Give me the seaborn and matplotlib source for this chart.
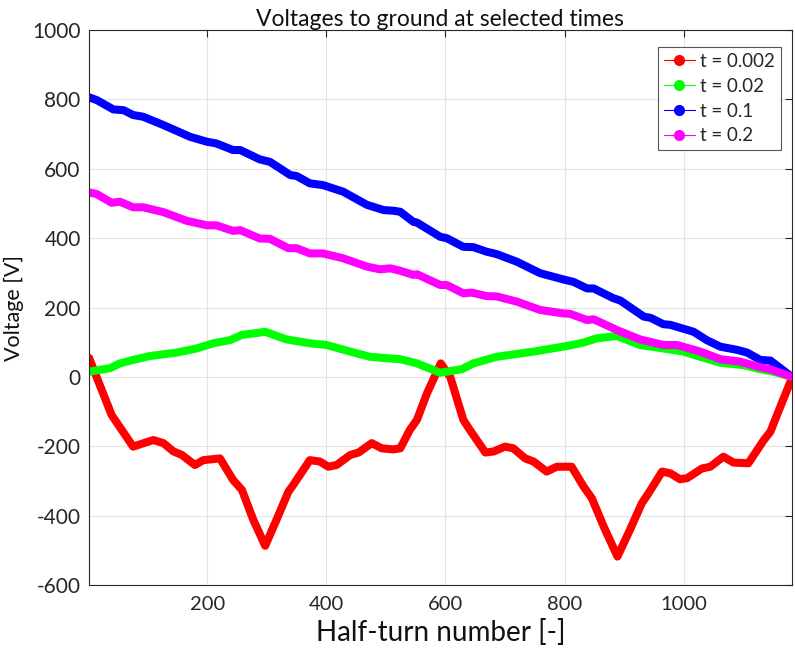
import matplotlib
matplotlib.use("Agg")
import matplotlib.pyplot as plt
import seaborn as sns
import numpy as np
from matplotlib.lines import Line2D

# ---------------- data ----------------
x_red = [1, 39, 75, 109, 126, 143, 157, 179, 193, 221, 243, 258, 277, 297, 316, 336, 344,
         372, 389, 403, 417, 440, 454, 476, 493, 512, 524, 540, 552, 569, 592, 608, 630, 641,
         667, 681, 700, 714, 734, 748, 770, 787, 812, 832, 846, 866, 889, 910, 930, 941, 964,
         978, 994, 1006, 1031, 1045, 1067, 1084, 1109, 1135, 1146, 1165, 1182]
v_red = [55, -110, -201, -182, -191, -215, -225, -254, -240, -235, -297, -326, -412, -487,
         -412, -331, -312, -240, -244, -259, -254, -225, -218, -191, -206, -209, -206, -153,
         -124, -47, 39, 0, -124, -153, -218, -215, -201, -206, -235, -244, -273, -259, -259,
         -316, -350, -432, -518, -441, -364, -336, -273, -278, -295, -292, -264, -259, -230,
         -247, -249, -182, -158, -76, -4]

x_green = [1, 36, 53, 75, 103, 148, 182, 210, 238, 258, 297, 333, 372, 400, 440, 473, 501,
           524, 552, 591, 627, 647, 686, 748, 804, 832, 854, 888, 927, 966, 1000, 1028, 1062,
           1101, 1129, 1151, 1182]
v_green = [15, 25, 39, 49, 60, 70, 82, 97, 106, 121, 130, 108, 97, 92, 73, 58, 54, 51, 39,
           12, 22, 39, 58, 73, 89, 99, 111, 118, 92, 82, 73, 58, 41, 34, 22, 15, 0]

x_blue = [1, 14, 42, 59, 75, 92, 126, 171, 199, 215, 243, 255, 288, 305, 339, 350, 372, 394,
          428, 468, 496, 513, 524, 546, 552, 591, 602, 630, 647, 669, 686, 720, 759, 798, 815,
          838, 849, 882, 894, 933, 945, 966, 978, 1017, 1039, 1062, 1090, 1107, 1129, 1146,
          1163, 1182]
v_blue = [806, 798, 771, 769, 755, 750, 726, 692, 678, 673, 654, 654, 627, 620, 582, 579,
          558, 553, 534, 496, 481, 479, 476, 447, 445, 404, 400, 375, 374, 361, 354, 332,
          299, 281, 274, 255, 255, 227, 220, 174, 170, 152, 150, 130, 106, 87, 78, 70, 49,
          47, 25, 0]

x_mag = [1, 14, 39, 53, 75, 92, 126, 165, 199, 215, 243, 255, 288, 305, 336, 350, 372, 394,
         428, 468, 490, 507, 524, 546, 552, 591, 602, 630, 644, 669, 686, 720, 759, 798, 809,
         838, 849, 882, 888, 927, 966, 989, 1028, 1062, 1095, 1129, 1146, 1182]
v_mag = [532, 527, 502, 505, 489, 489, 475, 450, 437, 437, 421, 423, 399, 398, 371, 371,
         356, 356, 342, 318, 310, 313, 306, 294, 296, 265, 265, 241, 243, 233, 232, 217,
         193, 183, 182, 164, 166, 140, 135, 108, 92, 92, 73, 51, 44, 28, 22, 0]

labels = ["t = 0.002", "t = 0.02", "t = 0.1", "t = 0.2"]
colors = ["#ff0000", "#00ff00", "#0000ff", "#ff00ff"]
x_ticks = [200, 400, 600, 800, 1000]
y_ticks = [-600, -400, -200, 0, 200, 400, 600, 800, 1000]

# ---------------- plot ----------------
sns.set_theme(style="white")
plt.rcParams["font.family"] = ["Lato", "DejaVu Sans"]
plt.rcParams["axes.unicode_minus"] = False

fig = plt.figure(figsize=(7.95, 6.6), dpi=100)
ax = fig.add_axes([0.112, 0.1136, 0.884, 0.8409])

series = [(x_red, v_red), (x_green, v_green), (x_blue, v_blue), (x_mag, v_mag)]
for (xs, vs), lab, col in zip(series, labels, colors):
    sns.lineplot(x=xs, y=vs, ax=ax, color=col, lw=5.8, legend=False,
                 solid_joinstyle="round", solid_capstyle="round")

ax.set_xlim(1, 1182)
ax.set_ylim(-600, 1000)
ax.set_xticks(x_ticks)
ax.set_yticks(y_ticks)
ax.grid(True, color="#e3e3e3", lw=0.8)
ax.set_axisbelow(True)

ax.tick_params(direction="in", length=5, width=0.8, top=True, right=True,
               labelsize=15, colors="#262626", pad=6)
ax.tick_params(axis="x", labelsize=14.5, pad=8)
for s in ax.spines.values():
    s.set_color("#262626")
    s.set_linewidth(0.8)

ax.set_title("Voltages to ground at selected times", fontsize=16.5, color="#111111", pad=3)
ax.set_xlabel("Half-turn number [-]", fontsize=20, color="#111111", labelpad=4)
ax.set_ylabel("Voltage [V]", fontsize=15.5, color="#111111", labelpad=6)

handles = [Line2D([0], [0], color=c, lw=0.8, marker="o", markersize=7,
                  markerfacecolor=c, markeredgecolor=c) for c in colors]
leg = ax.legend(handles, labels, loc="upper right", bbox_to_anchor=(0.984, 0.969),
                fontsize=13.5, frameon=True,
                fancybox=False, framealpha=1, edgecolor="#555555",
                borderaxespad=0.0, handlelength=1.7, handletextpad=0.25,
                labelspacing=0.42, borderpad=0.3)
leg.get_frame().set_linewidth(0.8)

fig.savefig("out.png", dpi=100)
